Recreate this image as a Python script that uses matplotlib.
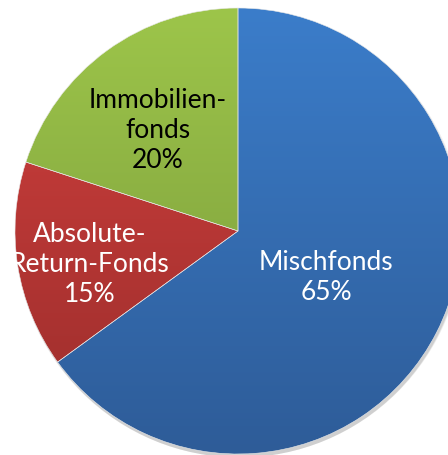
import numpy as np
import matplotlib.pyplot as plt
from matplotlib.patches import Circle
from matplotlib.colors import LinearSegmentedColormap

# Data
labels = ["Mischfonds", "Absolute-\nReturn-Fonds", "Immobilien-\nfonds"]
shares = [65, 15, 20]
top_colors = ["#3b7dca", "#d2403e", "#9dc54a"]
bottom_colors = ["#2e5c98", "#9a2d2b", "#77973a"]
text_colors = ["white", "white", "black"]

fig = plt.figure(figsize=(4.48, 4.55), dpi=100)
ax = fig.add_axes([0, 0, 1, 1])

cx, cy, r = 238, 224, 223

# soft shadow
for i, a in enumerate([0.06, 0.06, 0.08]):
    ax.add_patch(Circle((cx + 1.5, cy - 2.5 - i), r + 1 - i, color="black", alpha=a, lw=0, zorder=0))

wedges, _ = ax.pie(shares, center=(cx, cy), radius=r, startangle=90, counterclock=False,
                   frame=True, wedgeprops=dict(linewidth=0.4, edgecolor="#e8e8e8"))

grad = np.linspace(0, 1, 256).reshape(-1, 1)
for w, c1, c2 in zip(wedges, top_colors, bottom_colors):
    cmap = LinearSegmentedColormap.from_list("g", [c1, c2])
    im = ax.imshow(grad, cmap=cmap, extent=(cx - r, cx + r, cy - r, cy + r),
                   origin="upper", aspect="auto", zorder=1.5)
    im.set_clip_path(w)
    w.set_zorder(2)
    w.set_facecolor("none")

label_pos = [(326, 178), (90, 190), (158, 324)]
for lab, s, (x, y), tc in zip(labels, shares, label_pos, text_colors):
    ax.text(x, y, f"{lab}\n{s}%", ha="center", va="center", color=tc,
            fontsize=19, family="Lato", linespacing=1.25, zorder=3)

ax.set_xlim(0, 448)
ax.set_ylim(0, 455)
ax.axis("off")
fig.savefig("out.png", dpi=100)
